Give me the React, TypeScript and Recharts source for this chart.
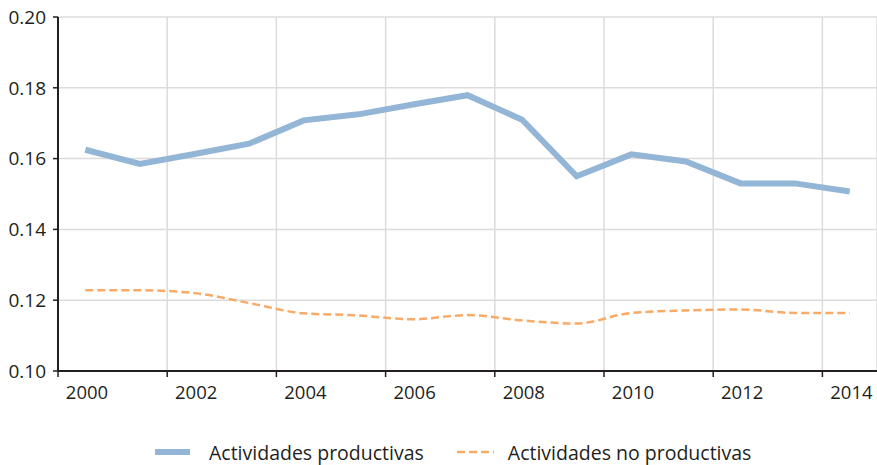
import { LineChart, Line, XAxis, YAxis, CartesianGrid, Legend } from 'recharts';

const years = [2000, 2001, 2002, 2003, 2004, 2005, 2006, 2007, 2008, 2009, 2010, 2011, 2012, 2013, 2014];
const productivas = [0.1625, 0.1585, 0.1613, 0.1642, 0.1708, 0.1725, 0.1753, 0.1779, 0.1710, 0.1550, 0.1612, 0.1592, 0.1530, 0.1530, 0.1507];
const noProductivas = [0.1228, 0.1228, 0.1220, 0.1192, 0.1163, 0.1157, 0.1146, 0.1158, 0.1143, 0.1134, 0.1164, 0.1171, 0.1174, 0.1164, 0.1164];
const xTicks = [1999.5, 2001.5, 2003.5, 2005.5, 2007.5, 2009.5, 2011.5, 2013.5];
const yTicks = [0.10, 0.12, 0.14, 0.16, 0.18, 0.20];
const seriesNames = ['Actividades productivas', 'Actividades no productivas'];

const data = years.map((year, i) => ({ year, productivas: productivas[i], noProductivas: noProductivas[i] }));

const FONT = '"Open Sans", sans-serif';
const BLUE = '#94b6d6';
const ORANGE = '#f9aa66';
const AXIS = '#231f20';

// year labels sit half a year to the right of the tick marks
const YearTick = (props: any) => {
    const { x, y, payload } = props;
    return (
        <text x={x + 29} y={y} dy="0.71em" textAnchor="middle" fontFamily={FONT} fontSize={18.5} fill={AXIS}>
            {Math.round(payload.value + 0.5)}
        </text>
    );
};

const LegendContent = () => (
    <div style={{ display: 'flex', alignItems: 'center', paddingLeft: 155, height: 24, fontFamily: FONT, fontSize: 19.5, color: AXIS }}>
        <svg width={35} height={8}><line x1={0} y1={4} x2={35} y2={4} stroke={BLUE} strokeWidth={6} /></svg>
        <span style={{ marginLeft: 19 }}>{seriesNames[0]}</span>
        <svg width={37} height={8} style={{ marginLeft: 33 }}><line x1={0} y1={4} x2={37} y2={4} stroke={ORANGE} strokeWidth={2.5} strokeDasharray="8 4" /></svg>
        <span style={{ marginLeft: 14 }}>{seriesNames[1]}</span>
    </div>
);

export default function App() {
    return (
        <div style={{ position: 'absolute', left: 0, top: 0 }}>
            <LineChart width={877} height={465} data={data} margin={{ top: 17, right: 0, left: 0, bottom: 0 }}>
                <CartesianGrid stroke="#dcdcdc" strokeWidth={1.5} />
                <XAxis
                    dataKey="year"
                    type="number"
                    domain={[1999.5, 2014.5]}
                    ticks={xTicks}
                    interval={0}
                    height={94}
                    tick={<YearTick />}
                    tickSize={6}
                    tickMargin={9}
                    axisLine={{ stroke: AXIS, strokeWidth: 2 }}
                    tickLine={{ stroke: AXIS, strokeWidth: 1.5 }}
                />
                <YAxis
                    type="number"
                    domain={[0.1, 0.2]}
                    ticks={yTicks}
                    interval={0}
                    width={58}
                    tickFormatter={(v: number) => v.toFixed(2)}
                    tick={{ fontFamily: FONT, fontSize: 19, fill: AXIS }}
                    tickSize={5}
                    tickMargin={7}
                    axisLine={{ stroke: AXIS, strokeWidth: 2 }}
                    tickLine={{ stroke: AXIS, strokeWidth: 1.5 }}
                />
                <Legend
                    verticalAlign="middle"
                    align="center"
                    layout="horizontal"
                    wrapperStyle={{ top: 440, left: 0, width: 877 }}
                    content={<LegendContent />}
                />
                <Line type="linear" dataKey="productivas" name={seriesNames[0]} stroke={BLUE} strokeWidth={6} dot={false} isAnimationActive={false} />
                <Line type="monotone" dataKey="noProductivas" name={seriesNames[1]} stroke={ORANGE} strokeWidth={2.5} strokeDasharray="8 4" dot={false} isAnimationActive={false} />
            </LineChart>
        </div>
    );
}
